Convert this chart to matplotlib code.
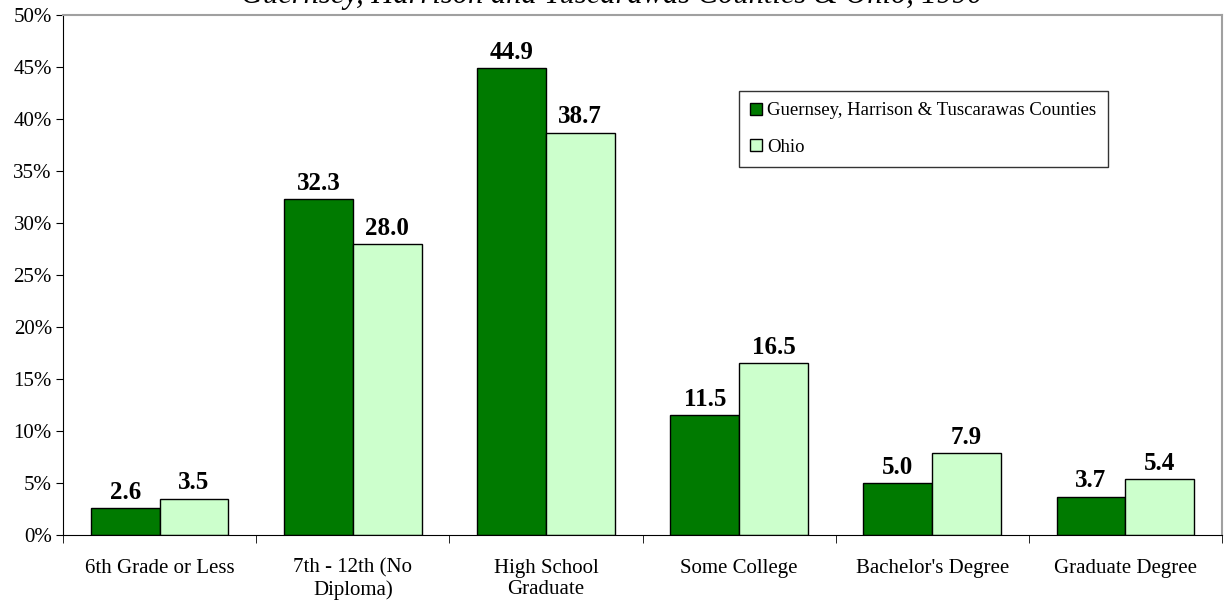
import numpy as np
import matplotlib
matplotlib.use("Agg")
import matplotlib.pyplot as plt

categories = ["6th Grade or Less", "7th - 12th (No\nDiploma)", "High School\nGraduate",
              "Some College", "Bachelor's Degree", "Graduate Degree"]
counties = [2.6, 32.3, 44.9, 11.5, 5.0, 3.7]
ohio = [3.5, 28.0, 38.7, 16.5, 7.9, 5.4]
yticks = [0, 5, 10, 15, 20, 25, 30, 35, 40, 45, 50]

plt.rcParams['font.family'] = ['Liberation Serif', 'DejaVu Serif']

fig = plt.figure(figsize=(12.24, 6.05), dpi=100)
ax = fig.add_axes([63/1224, 70/605, (1222-63)/1224, (535-15)/605])

x = np.arange(len(categories))
w = 0.356
b1 = ax.bar(x - w/2, counties, w, color="#007A00", edgecolor="black", linewidth=1,
            label="Guernsey, Harrison & Tuscarawas Counties")
b2 = ax.bar(x + w/2, ohio, w, color="#CCFFCC", edgecolor="black", linewidth=1, label="Ohio")

for bars, vals in ((b1, counties), (b2, ohio)):
    for r, v in zip(bars, vals):
        ax.text(r.get_x() + r.get_width()/2, v + 0.4, "%.1f" % v, ha="center", va="bottom",
                fontsize=18, fontweight="bold")

ax.set_xlim(-0.5, len(categories) - 0.5)
ax.set_ylim(0, 50)
ax.set_yticks(yticks)
ax.set_yticklabels([str(t) + "%" for t in yticks], fontsize=15)
ax.set_xticks(x)
ax.set_xticklabels(categories, fontsize=15, linespacing=1.15)
ax.tick_params(axis="x", length=0, pad=17)
ax.set_xticks(np.arange(len(categories) + 1) - 0.5, minor=True)
ax.tick_params(axis="x", which="minor", length=6, direction="out", color="black")
ax.tick_params(axis="y", length=5, direction="out", color="black", pad=3)

ax.spines["top"].set_color("#a0a0a0")
ax.spines["right"].set_color("#a0a0a0")
ax.spines["top"].set_linewidth(1.5)
ax.spines["right"].set_linewidth(1.5)

leg = ax.legend(loc="upper left", bbox_to_anchor=(676/1159, (535-91)/520), fontsize=13.5,
                frameon=True, fancybox=False, edgecolor="black", handlelength=0.6,
                handleheight=0.6, handletextpad=0.3, labelspacing=1.05, borderpad=0.6,
                borderaxespad=0)
leg.get_frame().set_linewidth(1)

fig.text(0.5, 1 - 3/605, "Guernsey, Harrison and Tuscarawas Counties & Ohio, 1990",
         ha="center", va="baseline", fontsize=22, style="italic")

fig.savefig("out.png", dpi=100)
